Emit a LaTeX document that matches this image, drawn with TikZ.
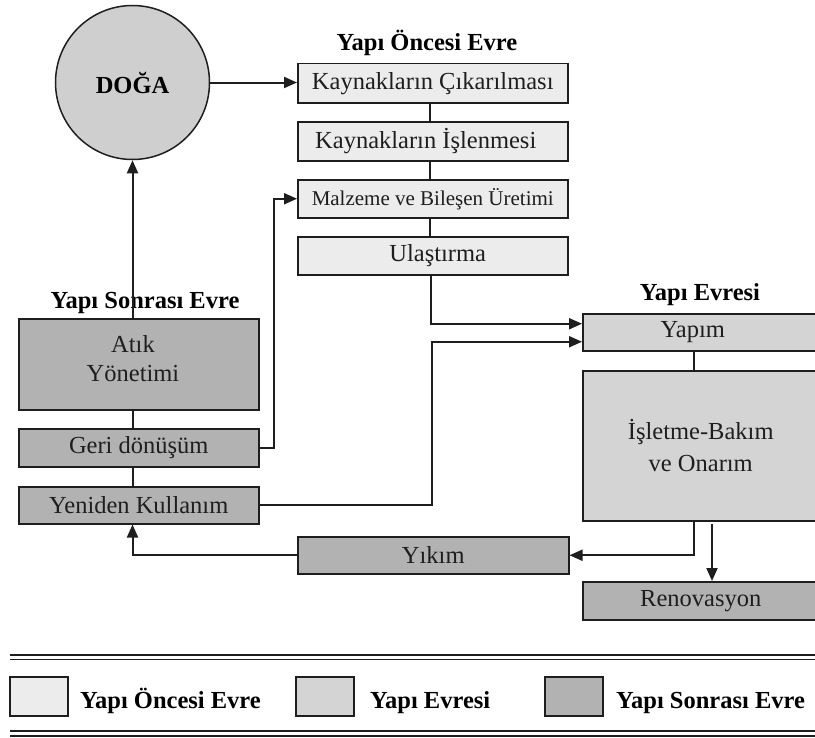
\documentclass[tikz,border=0pt]{standalone}
\usepackage{fontspec}
\setmainfont{Liberation Serif}
\usetikzlibrary{arrows.meta,positioning}
\definecolor{lightph}{HTML}{ECECEC}
\definecolor{midph}{HTML}{D4D4D4}
\definecolor{darkph}{HTML}{B2B2B2}
\definecolor{circfill}{HTML}{CFCFCF}
\definecolor{inkc}{HTML}{1E1E1E}
\tikzset{
  boxbase/.style={draw=inkc, line width=1.5bp, rectangle, inner sep=0pt, anchor=north west, align=center,
    font=\fontsize{24.5bp}{28bp}\selectfont, text=inkc},
  prebox/.style={boxbase, fill=lightph},
  midbox/.style={boxbase, fill=midph},
  postbox/.style={boxbase, fill=darkph},
  titletext/.style={font=\bfseries\fontsize{24.5bp}{28bp}\selectfont, text=black, inner sep=0pt},
  arr/.style={draw=inkc, line width=2bp, -{Triangle[length=13bp,width=11bp]}},
  link/.style={draw=inkc, line width=2bp},
  legendbox/.style={draw=inkc, line width=1.5bp, minimum width=58bp, minimum height=39bp, inner sep=0pt},
  rule/.style={draw=inkc, line width=2bp}
}
\begin{document}
\begin{tikzpicture}[x=1bp,y=-1bp]
\useasboundingbox (0,0) rectangle (815,738);
\clip (0,0) rectangle (815,738);

% titles
\node[titletext, anchor=base] (t1) at (427,51) {Yapı Öncesi Evre};
\node[titletext, anchor=base] (t2) at (145,308) {Yapı Sonrası Evre};
\node[titletext, anchor=base] (t3) at (700,300) {Yapı Evresi};

% nature
\node[circle, draw=inkc, line width=1.5bp, fill=circfill, minimum size=154bp, inner sep=0pt,
  font=\bfseries\fontsize{24.5bp}{28bp}\selectfont] (doga) at (132.5,82.5) {DOĞA};

% pre-building phase
\node[prebox, minimum width=270bp, minimum height=39bp] (b1) at (297,63) {Kaynakların Çıkarılması};
\node[prebox, minimum width=270bp, minimum height=39bp] (b2) at (297,121) {Kaynakların İşlenmesi\hspace{14bp}};
\node[prebox, minimum width=270bp, minimum height=38bp, font=\fontsize{21bp}{24bp}\selectfont] (b3) at (297,179) {Malzeme ve Bileşen Üretimi};
\node[prebox, minimum width=270bp, minimum height=38bp] (b4) at (297,236) {\hspace{10bp}Ulaştırma};

% post-building phase
\node[postbox, minimum width=240bp, minimum height=91bp] (atik) at (18,318) {};
\node[font=\fontsize{24.5bp}{29bp}\selectfont, text=inkc, align=center, inner sep=0pt] (atikt) at (133,359) {Atık\\Yönetimi};
\node[postbox, minimum width=240bp, minimum height=38bp] (geri) at (18,428) {Geri dönüşüm};
\node[postbox, minimum width=240bp, minimum height=37bp] (yeniden) at (18,486) {Yeniden Kullanım};
\node[postbox, minimum width=271bp, minimum height=37bp] (yikim) at (297,536) {Yıkım};

% building phase
\node[midbox, minimum width=236bp, minimum height=37bp] (yapim) at (582,313) {Yapım\hspace{16bp}};
\node[midbox, minimum width=236bp, minimum height=150bp, font=\fontsize{24.5bp}{32bp}\selectfont] (isletme) at (582,370) {İşletme-Bakım\\ve Onarım};
\node[postbox, minimum width=236bp, minimum height=38bp] (renov) at (582,581) {Renovasyon};

% connectors
\draw[arr] (doga.east) -- (b1.west |- doga.east);
\draw[link] (b1.south -| 430,0) -- (b2.north -| 430,0);
\draw[link] (b2.south -| 430,0) -- (b3.north -| 430,0);
\draw[link] (b3.south -| 430,0) -- (b4.north -| 430,0);
\coordinate (yin1) at ([yshift=8.5bp]yapim.west);
\coordinate (yin2) at ([yshift=-9.5bp]yapim.west);
\draw[arr] (b4.south -| 431,0) |- (yin1);
\draw[arr] (yeniden.east) -- (yeniden.east -| 432,0) |- (yin2);
\draw[arr] (geri.east) -- (geri.east -| 274,0) |- (b3.west);
\draw[arr] (atik.north -| doga.south) -- (doga.south);
\draw[link] (atik.south -| doga.south) -- (geri.north -| doga.south);
\draw[link] (geri.south -| doga.south) -- (yeniden.north -| doga.south);
\draw[arr] (yikim.west) -| (yeniden.south -| doga.south);
\draw[link] (yapim.south -| 694,0) -- (isletme.north -| 694,0);
\draw[arr] (isletme.south -| 694,0) |- (yikim.east);
\coordinate (rtop) at (renov.north -| 712,0);
\draw[arr] ([yshift=-2bp]isletme.south -| 712,0) -- (rtop);

% legend
\draw[rule] (10,655) -- (815,655);
\draw[rule, line width=1.6bp] (10,659.5) -- (815,659.5);
\draw[rule, line width=1.6bp] (10,731) -- (815,731);
\draw[rule] (10,735.5) -- (815,735.5);
\node[legendbox, fill=lightph] (l1) at (39,696.5) {};
\node[titletext, anchor=base west] (l1t) at (80,708) {Yapı Öncesi Evre};
\node[legendbox, fill=midph] (l2) at (325,696.5) {};
\node[titletext, anchor=base west] (l2t) at (370,708) {Yapı Evresi};
\node[legendbox, fill=darkph] (l3) at (574,696.5) {};
\node[titletext, anchor=base west] (l3t) at (616,708) {Yapı Sonrası Evre};
\end{tikzpicture}
\end{document}
